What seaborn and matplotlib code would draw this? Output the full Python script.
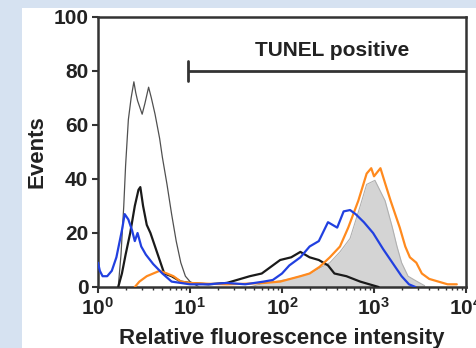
import numpy as np
import pandas as pd
import matplotlib
matplotlib.use("Agg")
import matplotlib.pyplot as plt
from matplotlib.patches import Rectangle
import seaborn as sns

# ---- data (x given as log10 of fluorescence intensity) ----
thin_logx = [0.22, 0.25, 0.28, 0.30, 0.33, 0.36, 0.39, 0.41, 0.43, 0.45, 0.48, 0.51, 0.55, 0.58,
             0.62, 0.67, 0.70, 0.75, 0.80, 0.85, 0.90, 0.95, 1.00, 1.10]
thin_y = [0, 12, 30, 45, 62, 70, 76, 72, 69, 67, 64, 68, 74, 70, 64, 55, 48, 38, 27, 17, 9, 4, 2, 0]

black_logx = [0.22, 0.26, 0.30, 0.35, 0.40, 0.44, 0.46, 0.49, 0.53, 0.57, 0.62, 0.67, 0.72, 0.80,
              0.90, 1.00, 1.20, 1.40, 1.55, 1.65, 1.78, 1.88, 1.98, 2.10, 2.20, 2.30, 2.40, 2.50,
              2.57, 2.70, 2.85, 2.95, 3.05]
black_y = [0, 5, 12, 20, 30, 36, 37, 30, 23, 20, 15, 10, 5, 4, 2, 1.5, 1, 1.5, 3, 4, 5, 7.5, 10,
           11, 13, 11, 10, 8, 5, 4, 2, 1, 0]

blue_logx = [0.00, 0.02, 0.05, 0.10, 0.15, 0.20, 0.26, 0.29, 0.33, 0.37, 0.40, 0.43, 0.47, 0.52,
             0.60, 0.70, 0.80, 0.90, 1.00, 1.20, 1.40, 1.60, 1.80, 1.90, 2.00, 2.08, 2.20, 2.30,
             2.40, 2.50, 2.60, 2.67, 2.74, 2.80, 2.89, 2.99, 3.10, 3.20, 3.30, 3.38, 3.45]
blue_y = [9, 6, 4, 4, 6, 11, 21, 27, 25, 21, 17, 20, 15, 12, 8.5, 5, 2, 1.5, 1, 1, 1.5, 1, 2,
          2.6, 5, 8, 11, 15, 17, 24, 22, 28, 28.5, 27, 24, 20, 14, 9, 4, 1, 0]

orange_logx = [0.40, 0.45, 0.53, 0.60, 0.67, 0.75, 0.82, 0.90, 1.00, 1.20, 1.40, 1.60, 1.80,
               1.98, 2.20, 2.30, 2.41, 2.52, 2.63, 2.72, 2.83, 2.92, 2.97, 3.00, 3.07, 3.12,
               3.18, 3.23, 3.28, 3.34, 3.39, 3.46, 3.52, 3.60, 3.70, 3.80, 3.90]
orange_y = [0, 2, 4, 5, 6, 5, 4, 2, 1.5, 1.2, 1, 1.2, 1.5, 2, 4, 5, 7.5, 11, 15, 22, 32, 42, 44,
            41, 44, 38.5, 32, 27, 22, 15, 11, 9, 5, 3, 2, 1, 1]

gray_logx = [1.65, 1.76, 2.09, 2.30, 2.52, 2.63, 2.74, 2.85, 2.92, 3.01, 3.12, 3.20, 3.25,
             3.30, 3.37, 3.47, 3.55]
gray_y = [0, 1, 3, 5, 9, 13, 18, 30, 38, 39.5, 32, 22, 15, 9, 4, 2, 0.5]

xtick_exps = [0, 1, 2, 3, 4]
yticks = [0, 20, 40, 60, 80, 100]
bracket_x = [9.5, 1e4]
bracket_y = 80
bracket_label = "TUNEL positive"
xlabel = "Relative fluorescence intensity"
ylabel = "Events"

# ---- figure ----
sns.set_theme(style="ticks")
plt.rcParams["font.family"] = ["Liberation Sans", "DejaVu Sans"]
plt.rcParams["font.weight"] = "bold"
plt.rcParams["mathtext.fontset"] = "custom"
plt.rcParams["mathtext.rm"] = "Liberation Sans:bold"
plt.rcParams["mathtext.it"] = "Liberation Sans:bold"
plt.rcParams["mathtext.bf"] = "Liberation Sans:bold"

fig = plt.figure(figsize=(4.77, 3.48), dpi=100, facecolor="#d6e2f1")
fig.patches.append(Rectangle((22 / 477, 0), 1 - 22 / 477, 1 - 8 / 348,
                             transform=fig.transFigure, facecolor="white",
                             edgecolor="none", zorder=-10))
ax = fig.add_axes([98 / 477, 61 / 348, 368 / 477, 270 / 348])
ax.set_facecolor("white")


def frame(logx, y, name):
    return pd.DataFrame({"x": 10 ** np.asarray(logx, float), "y": np.asarray(y, float), "s": name})


gray_df = frame(gray_logx, gray_y, "gray")
ax.fill_between(gray_df["x"], 0, gray_df["y"], color="#d4d4d4", lw=0, zorder=1)
sns.lineplot(data=gray_df, x="x", y="y", ax=ax, color="#b0b0b0", lw=0.8, zorder=2)

sns.lineplot(data=frame(thin_logx, thin_y, "thin"), x="x", y="y", ax=ax,
             color="#505050", lw=0.9, zorder=3)
sns.lineplot(data=frame(black_logx, black_y, "black"), x="x", y="y", ax=ax,
             color="#1a1a1a", lw=1.6, zorder=4)
sns.lineplot(data=frame(orange_logx, orange_y, "orange"), x="x", y="y", ax=ax,
             color="#ff8a1e", lw=1.6, zorder=5)
sns.lineplot(data=frame(blue_logx, blue_y, "blue"), x="x", y="y", ax=ax,
             color="#2140e0", lw=1.6, zorder=6)

# bracket
ax.plot(bracket_x, [bracket_y, bracket_y], color="#333333", lw=2.0, zorder=7, solid_capstyle="butt")
ax.plot([bracket_x[0], bracket_x[0]], [bracket_y - 3.7, bracket_y + 3.7], color="#333333",
        lw=2.0, zorder=7)
ax.text(10 ** 2.54, 87.5, bracket_label, ha="center", va="center", fontsize=15,
        fontweight="bold", color="#222222")

ax.set_xscale("log")
ax.set_xlim(1, 1e4)
ax.set_ylim(0, 100)
ax.set_xticks([10 ** e for e in xtick_exps])
ax.set_xticklabels([rf"$10^{{{e}}}$" for e in xtick_exps])
ax.set_yticks(yticks)
ax.set_yticklabels([str(v) for v in yticks])
ax.tick_params(axis="both", which="major", labelsize=15, length=4, width=1.5,
               color="#333333", labelcolor="#222222", pad=3)
ax.tick_params(axis="x", which="minor", length=2, width=1, color="#333333")
ax.set_xlabel(xlabel, fontsize=16, fontweight="bold", color="#222222", labelpad=7)
ax.set_ylabel(ylabel, fontsize=16, fontweight="bold", color="#222222", labelpad=4)
for sp in ax.spines.values():
    sp.set_visible(True)
    sp.set_linewidth(1.8)
    sp.set_color("#333333")
if ax.get_legend():
    ax.get_legend().remove()

fig.savefig("out.png", dpi=100, facecolor=fig.get_facecolor())
